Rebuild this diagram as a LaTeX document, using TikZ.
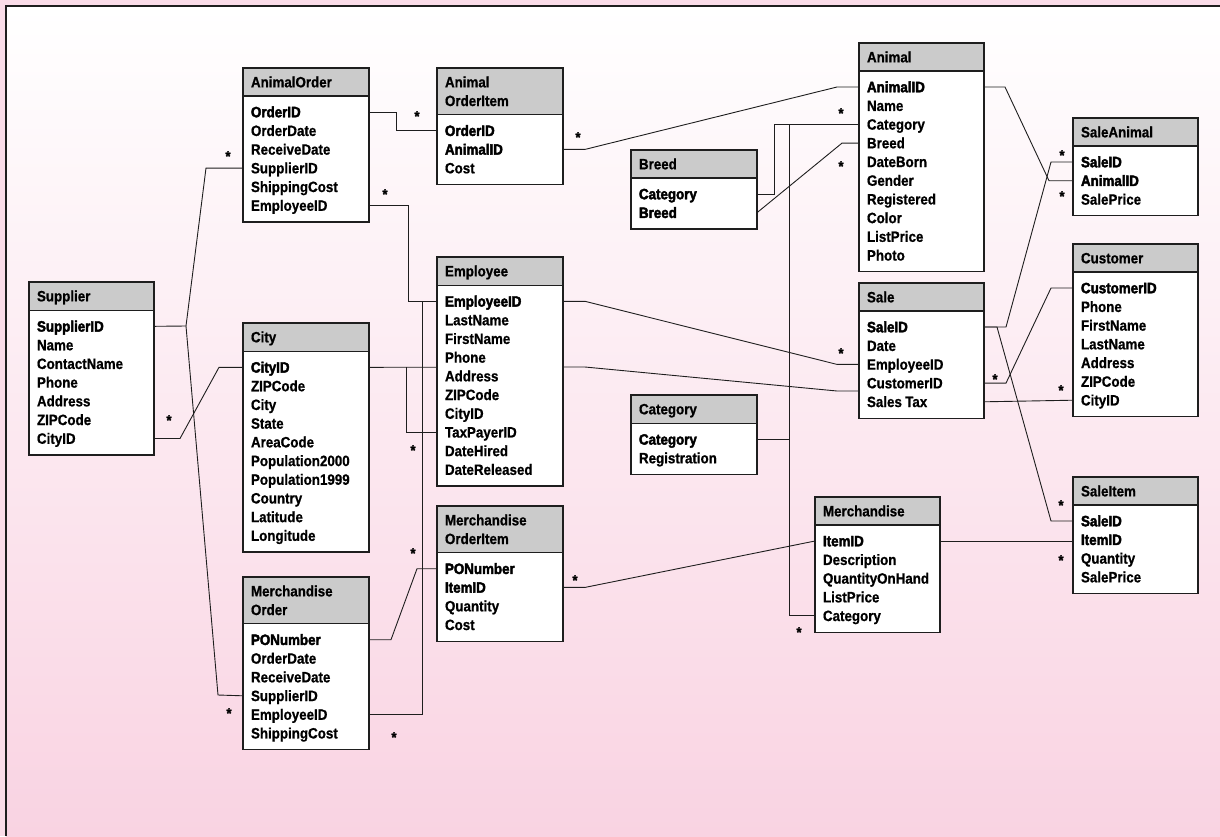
\documentclass[tikz,border=0pt]{standalone}
\usepackage{fontspec}
\usetikzlibrary{calc}
\newfontfamily\fieldfont{Liberation Sans}[FakeStretch=0.89,BoldFeatures={FakeBold=0.8}]
\newfontfamily\keyfont{Liberation Sans}[FakeStretch=0.89,BoldFeatures={FakeBold=2.6}]
\newcommand{\tabsize}{\fontsize{15pt}{18.7pt}\selectfont}
\definecolor{headgray}{HTML}{CBCBCB}
\definecolor{pagepink}{HTML}{FADCE8}
\definecolor{fadepink}{HTML}{F9D3E2}
\definecolor{inkline}{HTML}{1E1E1E}
\pgfdeclarelayer{paper}
\pgfdeclarelayer{links}
\pgfsetlayers{paper,links,main}
\tikzset{
  tablehead/.style={
    draw=inkline,
    line width=1.3pt,
    fill=headgray,
    anchor=north west,
    align=left,
    inner xsep=8pt,
    inner ysep=5.85pt,
    outer sep=0pt,
    minimum height=28pt,
    font=\fieldfont\bfseries\tabsize
  },
  tablebody/.style={draw=inkline,line width=1.3pt,fill=white},
  fieldrow/.style={
    anchor=north west,
    align=left,
    inner xsep=8pt,
    inner ysep=0pt,
    outer sep=0pt,
    minimum height=18.7pt,
    text height=12.5pt,
    text depth=2pt
  },
  relation/.style={draw=inkline,line width=0.9pt},
  manyend/.style={font=\fieldfont\bfseries\tabsize,inner sep=0pt,anchor=base,yshift=-8.5pt}
}
% #1 name, #2 top left, #3 text width, #4 title, #5 key fields, #6 field count, #7 fields
\newcommand{\ertable}[7]{%
  \node[tablehead,text width=#3pt] (#1) at (#2)
    {\rule[-2.8pt]{0pt}{16.3pt}#4\rule[-2.8pt]{0pt}{16.3pt}};
  \path[tablebody] (#1.south west) rectangle ++({#3+16},{6.65+#6*18.7+7});
  \foreach \fld [count=\i] in {#7} {
    \path (#1.south west) ++(0,{6.65+(\i-1)*18.7})
      node[fieldrow,text width=#3pt] (#1-\i)
      {\ifnum\i>#5\relax\fieldfont\else\keyfont\fi\bfseries\tabsize\fld};
  }
}

\begin{document}
\begin{tikzpicture}[x=1pt,y=-1pt]
  \useasboundingbox (0,0) rectangle (1220,836);
  \begin{pgfonlayer}{paper}
    \fill[pagepink] (0,0) rectangle (1220,836);
    \shade[top color=white,bottom color=fadepink] (6,6) rectangle (1220,836);
    \draw[inkline,line width=1.2pt] (6,836) -- (6,6) -- (1220,6);
  \end{pgfonlayer}

  % tables
  \ertable{ao}{243,68}{110}{AnimalOrder}{1}{6}{OrderID,OrderDate,ReceiveDate,SupplierID,ShippingCost,EmployeeID}
  \ertable{aoi}{437,68}{110}{Animal\\OrderItem}{2}{3}{OrderID,AnimalID,Cost}
  \ertable{br}{631,150}{110}{Breed}{2}{2}{Category,Breed}
  \ertable{an}{859,43}{109}{Animal}{1}{10}{AnimalID,Name,Category,Breed,DateBorn,Gender,Registered,Color,ListPrice,Photo}
  \ertable{sa}{1073,118}{109}{SaleAnimal}{2}{3}{SaleID,AnimalID,SalePrice}
  \ertable{su}{29,282}{109}{Supplier}{1}{7}{SupplierID,Name,ContactName,Phone,Address,ZIPCode,CityID}
  \ertable{ci}{243,323}{110}{City}{1}{10}{CityID,ZIPCode,City,State,AreaCode,Population2000,Population1999,Country,Latitude,Longitude}
  \ertable{em}{437,257}{110}{Employee}{1}{10}{EmployeeID,LastName,FirstName,Phone,Address,ZIPCode,CityID,TaxPayerID,DateHired,DateReleased}
  \ertable{ca}{631,395}{110}{Category}{1}{2}{Category,Registration}
  \ertable{sl}{859,283}{109}{Sale}{1}{5}{SaleID,Date,EmployeeID,CustomerID,Sales Tax}
  \ertable{cu}{1073,244}{109}{Customer}{1}{7}{CustomerID,Phone,FirstName,LastName,Address,ZIPCode,CityID}
  \ertable{moi}{437,506}{110}{Merchandise\\OrderItem}{2}{4}{PONumber,ItemID,Quantity,Cost}
  \ertable{mo}{243,577}{110}{Merchandise\\Order}{1}{6}{PONumber,OrderDate,ReceiveDate,SupplierID,EmployeeID,ShippingCost}
  \ertable{me}{815,497}{109}{Merchandise}{1}{5}{ItemID,Description,QuantityOnHand,ListPrice,Category}
  \ertable{si}{1073,477}{109}{SaleItem}{2}{4}{SaleID,ItemID,Quantity,SalePrice}

  % relationships, drawn under the tables
  \begin{pgfonlayer}{links}
    \draw[relation] (ao-1.east) -- ++(27,0) |- (aoi-1.west);
    \draw[relation] (ao-4.west) -- ++(-37,0) -- (186,326) -- (218,695) -- (mo-4.west);
    \draw[relation] (su-1.east) -- (186,326);
    \draw[relation] (ao-6.east) -- ++(39,0) |- (em-1.west);
    \draw[relation] (mo-5.east) -- ++(53,0) |- (em-1.west);
    \draw[relation] (aoi-2.east) -- ++(22,0) -- ($(an-1.west)+(-22,0)$) -- (an-1.west);
    \draw[relation] (br-1.east) -- ++(17,0) |- (an-3.west);
    \draw[relation] (br-2.east) -- ($(an-4.west)+(-17,0)$) -- (an-4.west);
    \draw[relation] (ca-1.east) -- ++(32,0);
    \draw[relation] ($(an-3.west)+(-70,0)$) |- (me-5.west);
    \draw[relation] (an-1.east) -- ++(21,0) -- ($(sa-2.west)+(-24,0)$) -- (sa-2.west);
    \draw[relation] (sl-1.east) -- ++(22,0) -- ($(sa-1.west)+(-22,0)$) -- (sa-1.west);
    \draw[relation] (sl-1.east) -- ++(13,0) -- ($(si-1.west)+(-22,0)$) -- (si-1.west);
    \draw[relation] (cu-1.west) -- ++(-22,0) -- ($(sl-4.east)+(22,0)$) -- (sl-4.east);
    \draw[relation] (me-1.east) -- (me-1.east -| si-2.west);
    \draw[relation] (moi-2.east) -- ++(22,0) -- (me-1.west);
    \draw[relation] (mo-1.east) -- ++(22,0) -- ($(moi-1.west)+(-20,0)$) -- (moi-1.west);
    \draw[relation] (su-7.east) -- ++(26,0) -- ($(ci-1.west)+(-24,0)$) -- (ci-1.west);
    \draw[relation] (ci-1.east) -- (585,367) -- (837,391) -- (859,391) -- (sl-5.east) -- (cu-7.west);
    \draw[relation] ($(ci-1.east)+(37,0)$) |- (em-8.west);
    \draw[relation] (em-1.east) -- ++(22,0) -- ($(sl-3.west)+(-22,0)$) -- (sl-3.west);
  \end{pgfonlayer}

  % many ends
  \foreach \x/\y [count=\k] in {417/113,228/153,385/191,578/134,841/110,841/163,1062/152,1062/193,
      169/417,413/447,413/550,229/710,394/734,575/577,799/629,841/350,995/376,1061/387,1061/502,1061/557}
    \node[manyend] (many\k) at (\x,\y) {*};
\end{tikzpicture}
\end{document}
